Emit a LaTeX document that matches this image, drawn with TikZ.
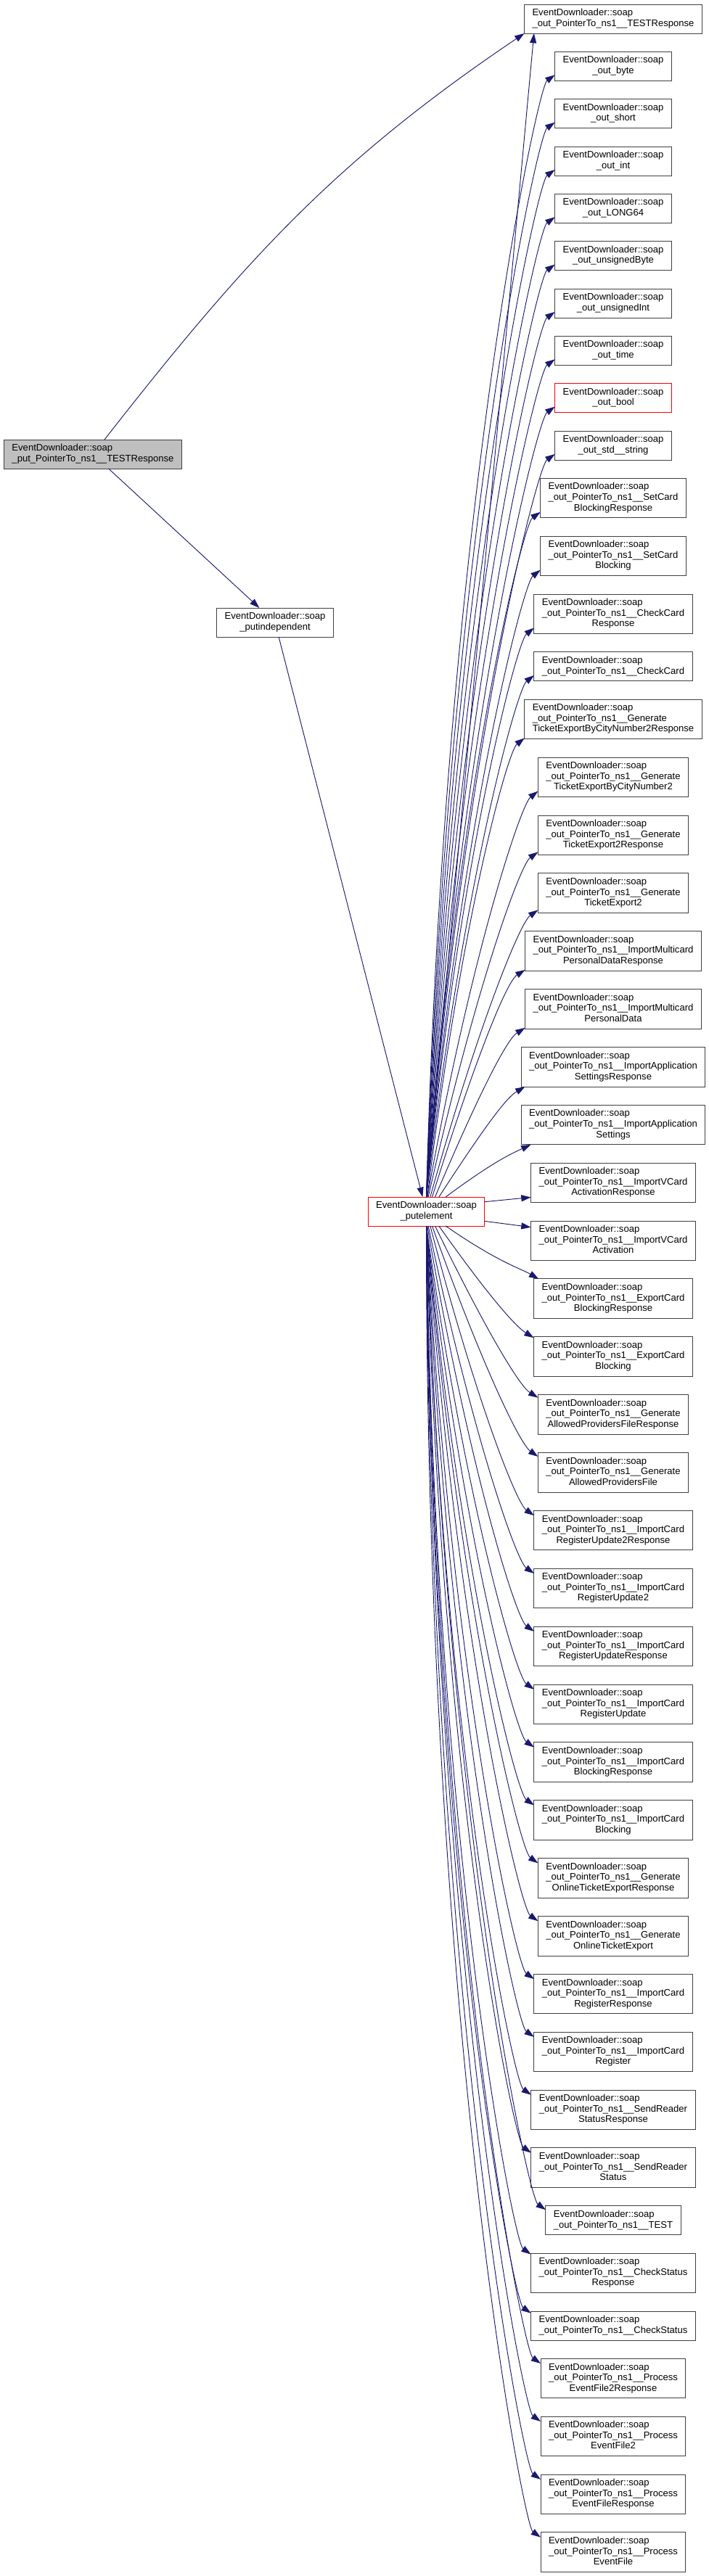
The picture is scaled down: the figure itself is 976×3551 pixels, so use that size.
\documentclass[tikz,border=0pt]{standalone}
\usepackage{fontspec}
\setmainfont{Liberation Sans}
\usetikzlibrary{calc,arrows.meta,positioning}
\definecolor{edgeblue}{HTML}{191970}
\definecolor{boxline}{HTML}{404040}
\definecolor{rootfill}{HTML}{BFBFBF}
% first lines left, last line centred
\newcommand{\fnA}[1]{\begin{tabular}{@{}l@{}}EventDownloader::soap\\\multicolumn{1}{@{}c@{}}{#1}\end{tabular}}
\newcommand{\fnB}[2]{\begin{tabular}{@{}l@{}}EventDownloader::soap\\#1\\\multicolumn{1}{@{}c@{}}{#2}\end{tabular}}
\tikzset{
  fn/.style={draw=boxline, line width=0.75pt, fill=white, outer sep=0pt, inner xsep=8.25pt, inner ysep=4.1pt, font=\fontsize{9.8}{10.9}\selectfont},
  hot/.style={fn, draw=red},
  call/.style={draw=edgeblue, line width=0.7pt, -{Triangle[length=10pt,width=6.8pt]}},
}

\begin{document}
\begin{tikzpicture}[x=0.75pt,y=0.75pt]
\useasboundingbox (0,0) rectangle (976,-3551);
% callers
\node[fn, fill=rootfill] (root) at (128,-626) {\fnA{\_put\_PointerTo\_ns1\_\_TESTResponse}};
\node[fn] (indep) at (379,-858) {\fnA{\_putindependent}};
\node[hot] (elem) at (587.5,-1670) {\fnA{\_putelement}};
% callees
\node[fn] (c1) at (845,-26) {\fnA{\_out\_PointerTo\_ns1\_\_TESTResponse}};
\node[fn, below=19pt of c1] (c2) {\fnA{\_out\_byte}};
\node[fn, below=19pt of c2] (c3) {\fnA{\_out\_short}};
\node[fn, below=19pt of c3] (c4) {\fnA{\_out\_int}};
\node[fn, below=19pt of c4] (c5) {\fnA{\_out\_LONG64}};
\node[fn, below=19pt of c5] (c6) {\fnA{\_out\_unsignedByte}};
\node[fn, below=19pt of c6] (c7) {\fnA{\_out\_unsignedInt}};
\node[fn, below=19pt of c7] (c8) {\fnA{\_out\_time}};
\node[hot, below=19pt of c8] (c9) {\fnA{\_out\_bool}};
\node[fn, below=19pt of c9] (c10) {\fnA{\_out\_std\_\_string}};
\node[fn, below=19pt of c10] (c11) {\fnB{\_out\_PointerTo\_ns1\_\_SetCard}{BlockingResponse}};
\node[fn, below=19pt of c11] (c12) {\fnB{\_out\_PointerTo\_ns1\_\_SetCard}{Blocking}};
\node[fn, below=19pt of c12] (c13) {\fnB{\_out\_PointerTo\_ns1\_\_CheckCard}{Response}};
\node[fn, below=19pt of c13] (c14) {\fnA{\_out\_PointerTo\_ns1\_\_CheckCard}};
\node[fn, below=19pt of c14] (c15) {\fnB{\_out\_PointerTo\_ns1\_\_Generate}{TicketExportByCityNumber2Response}};
\node[fn, below=19pt of c15] (c16) {\fnB{\_out\_PointerTo\_ns1\_\_Generate}{TicketExportByCityNumber2}};
\node[fn, below=19pt of c16] (c17) {\fnB{\_out\_PointerTo\_ns1\_\_Generate}{TicketExport2Response}};
\node[fn, below=19pt of c17] (c18) {\fnB{\_out\_PointerTo\_ns1\_\_Generate}{TicketExport2}};
\node[fn, below=19pt of c18] (c19) {\fnB{\_out\_PointerTo\_ns1\_\_ImportMulticard}{PersonalDataResponse}};
\node[fn, below=19pt of c19] (c20) {\fnB{\_out\_PointerTo\_ns1\_\_ImportMulticard}{PersonalData}};
\node[fn, below=19pt of c20] (c21) {\fnB{\_out\_PointerTo\_ns1\_\_ImportApplication}{SettingsResponse}};
\node[fn, below=19pt of c21] (c22) {\fnB{\_out\_PointerTo\_ns1\_\_ImportApplication}{Settings}};
\node[fn, below=19pt of c22] (c23) {\fnB{\_out\_PointerTo\_ns1\_\_ImportVCard}{ActivationResponse}};
\node[fn, below=19pt of c23] (c24) {\fnB{\_out\_PointerTo\_ns1\_\_ImportVCard}{Activation}};
\node[fn, below=19pt of c24] (c25) {\fnB{\_out\_PointerTo\_ns1\_\_ExportCard}{BlockingResponse}};
\node[fn, below=19pt of c25] (c26) {\fnB{\_out\_PointerTo\_ns1\_\_ExportCard}{Blocking}};
\node[fn, below=19pt of c26] (c27) {\fnB{\_out\_PointerTo\_ns1\_\_Generate}{AllowedProvidersFileResponse}};
\node[fn, below=19pt of c27] (c28) {\fnB{\_out\_PointerTo\_ns1\_\_Generate}{AllowedProvidersFile}};
\node[fn, below=19pt of c28] (c29) {\fnB{\_out\_PointerTo\_ns1\_\_ImportCard}{RegisterUpdate2Response}};
\node[fn, below=19pt of c29] (c30) {\fnB{\_out\_PointerTo\_ns1\_\_ImportCard}{RegisterUpdate2}};
\node[fn, below=19pt of c30] (c31) {\fnB{\_out\_PointerTo\_ns1\_\_ImportCard}{RegisterUpdateResponse}};
\node[fn, below=19pt of c31] (c32) {\fnB{\_out\_PointerTo\_ns1\_\_ImportCard}{RegisterUpdate}};
\node[fn, below=19pt of c32] (c33) {\fnB{\_out\_PointerTo\_ns1\_\_ImportCard}{BlockingResponse}};
\node[fn, below=19pt of c33] (c34) {\fnB{\_out\_PointerTo\_ns1\_\_ImportCard}{Blocking}};
\node[fn, below=19pt of c34] (c35) {\fnB{\_out\_PointerTo\_ns1\_\_Generate}{OnlineTicketExportResponse}};
\node[fn, below=19pt of c35] (c36) {\fnB{\_out\_PointerTo\_ns1\_\_Generate}{OnlineTicketExport}};
\node[fn, below=19pt of c36] (c37) {\fnB{\_out\_PointerTo\_ns1\_\_ImportCard}{RegisterResponse}};
\node[fn, below=19pt of c37] (c38) {\fnB{\_out\_PointerTo\_ns1\_\_ImportCard}{Register}};
\node[fn, below=19pt of c38] (c39) {\fnB{\_out\_PointerTo\_ns1\_\_SendReader}{StatusResponse}};
\node[fn, below=19pt of c39] (c40) {\fnB{\_out\_PointerTo\_ns1\_\_SendReader}{Status}};
\node[fn, below=19pt of c40] (c41) {\fnA{\_out\_PointerTo\_ns1\_\_TEST}};
\node[fn, below=19pt of c41] (c42) {\fnB{\_out\_PointerTo\_ns1\_\_CheckStatus}{Response}};
\node[fn, below=19pt of c42] (c43) {\fnA{\_out\_PointerTo\_ns1\_\_CheckStatus}};
\node[fn, below=19pt of c43] (c44) {\fnB{\_out\_PointerTo\_ns1\_\_Process}{EventFile2Response}};
\node[fn, below=19pt of c44] (c45) {\fnB{\_out\_PointerTo\_ns1\_\_Process}{EventFile2}};
\node[fn, below=19pt of c45] (c46) {\fnB{\_out\_PointerTo\_ns1\_\_Process}{EventFileResponse}};
\node[fn, below=19pt of c46] (c47) {\fnB{\_out\_PointerTo\_ns1\_\_Process}{EventFile}};

% caller edges
\draw[call] ([xshift=12pt]root.north) to[out=52,in=214] (c1.south west);
\draw[call] (root) -- (indep);
\draw[call] (indep) -- (elem);
\draw[call] (elem.north) -- ([xshift=10pt]c1.south west);
% upwards from _putelement
\foreach \k/\s/\dx/\dy/\ang in {2/0/0/6/215, 3/0/0/6/215, 4/0/0/6/215, 5/0/0/6/215, 6/0/0/6/215,
  7/0/0/6/215, 8/0/0/6/215, 9/0/0/6/215, 10/0/0/6/215, 11/0/0/6/215, 12/0/0/6/218, 13/0/0/6/218,
  14/0/0/6/218, 15/1/0/1/218, 16/1/0/6/218, 17/2/0/3/215, 18/4/0/3/215, 19/6/0/1/212,
  20/9/0/1/212, 21/13/4/0/210, 22/20/10/0/205}{
  \coordinate (t) at ([xshift=\dx pt,yshift=\dy pt]c\k.south west);
  \coordinate (s) at ([xshift=\s pt]elem.north);
  \draw[call] (s) .. controls ($(s)!0.6!5:(t)$) and ([shift={(\ang:22pt)}]t) .. (t);
}
% the two beside it
\draw[call] ([yshift=10pt]elem.east) -- ([yshift=-15pt]c23.west);
\draw[call] ([yshift=-10pt]elem.east) -- ([yshift=14pt]c24.west);
% downwards from _putelement
\foreach \k/\s/\dx/\dy/\ang in {25/20/5/0/150, 26/13/0/-1/148, 27/9/0/-3/148, 28/6/0/-4/145,
  29/4/0/-5/145, 30/2/0/-5/145, 31/1/0/-5/145, 32/0/0/-5/145, 33/0/0/-5/145, 34/0/0/-5/145,
  35/0/0/-5/145, 36/0/0/-5/145, 37/0/0/-5/145, 38/0/0/-5/145, 39/0/0/-5/145, 40/0/0/-5/145,
  41/0/0/-4/145, 42/0/0/-1/145, 43/0/0/-2/145, 44/0/0/-5/145, 45/0/0/-5/145, 46/0/0/-5/145,
  47/0/0/-5/145}{
  \coordinate (t) at ([xshift=\dx pt,yshift=\dy pt]c\k.north west);
  \coordinate (s) at ([xshift=\s pt]elem.south);
  \draw[call] (s) .. controls ($(s)!0.6!-5:(t)$) and ([shift={(\ang:22pt)}]t) .. (t);
}
\end{tikzpicture}
\end{document}
